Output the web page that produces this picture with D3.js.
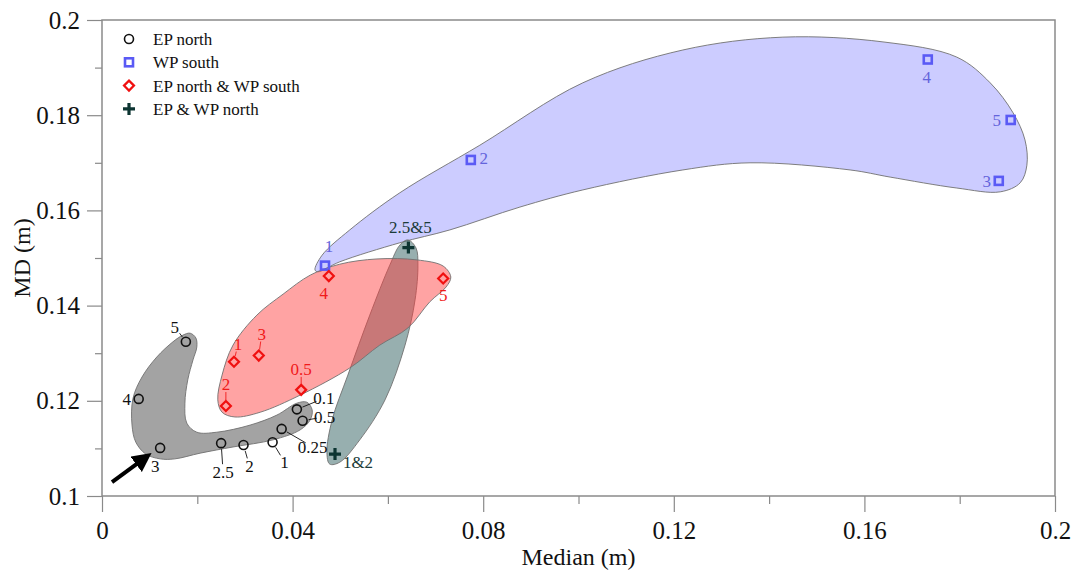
<!DOCTYPE html>
<html>
<head>
<meta charset="utf-8">
<script src="https://cdn.jsdelivr.net/npm/d3@7"></script>
<style>
  body { margin: 0; background: #fff; }
  text { font-family: "Liberation Serif", "Times New Roman", serif; }
</style>
</head>
<body>
<svg id="chart" width="1076" height="573"></svg>
<script>
// axis ticks
var xTicksMajor = [0, 0.04, 0.08, 0.12, 0.16, 0.2];
var xTicksMinor = [0.02, 0.06, 0.1, 0.14, 0.18];
var yTicksMajor = [0.1, 0.12, 0.14, 0.16, 0.18, 0.2];
var yTicksMinor = [0.11, 0.13, 0.15, 0.17, 0.19];

// series: median, MD, label
var epNorthX = [0.0176, 0.0077, 0.0122, 0.0250, 0.0297, 0.0358, 0.0377, 0.0409, 0.0421];
var epNorthY = [0.1324, 0.1204, 0.1101, 0.1111, 0.1107, 0.1113, 0.1141, 0.1182, 0.1158];
var epNorthLabels = ["5", "4", "3", "2.5", "2", "1", "0.25", "0.1", "0.5"];

var wpSouthX = [0.0468, 0.0774, 0.1733, 0.1907, 0.1882];
var wpSouthY = [0.1484, 0.1706, 0.1917, 0.1790, 0.1662];
var wpSouthLabels = ["1", "2", "4", "5", "3"];

var mixX = [0.0277, 0.0329, 0.0260, 0.0418, 0.0476, 0.0716];
var mixY = [0.1282, 0.1295, 0.1189, 0.1223, 0.1462, 0.1457];
var mixLabels = ["1", "3", "2", "0.5", "4", "5"];

var epwpX = [0.0643, 0.0489];
var epwpY = [0.1522, 0.1088];
var epwpLabels = ["2.5&5", "1&2"];

var legendNames = ["EP north", "WP south", "EP north & WP south", "EP & WP north"];

// region outlines (median, MD)
var grayRegion = [[0.0185,0.1342],[0.0197,0.1332],[0.0199,0.1313],[0.0191,0.1286],[0.0180,0.1244],[0.0174,0.1195],
  [0.0178,0.1153],[0.0199,0.1134],[0.0241,0.1134],[0.0311,0.1149],[0.0367,0.1170],[0.0409,0.1195],[0.0430,0.1197],
  [0.0441,0.1181],[0.0437,0.1160],[0.0416,0.1139],[0.0359,0.1118],[0.0275,0.1103],[0.0206,0.1090],[0.0153,0.1078],
  [0.0122,0.1078],[0.0092,0.1088],[0.0071,0.1113],[0.0063,0.1149],[0.0065,0.1205],[0.0084,0.1250],[0.0115,0.1292],
  [0.0149,0.1324],[0.0170,0.1338]];
var blueRegion = [[0.0447,0.1475],[0.0462,0.1506],[0.0520,0.1559],[0.0625,0.1637],[0.0793,0.1737],[0.1009,0.1868],
  [0.1219,0.1937],[0.1429,0.1964],[0.1639,0.1954],[0.1794,0.1922],[0.1864,0.1868],[0.1912,0.1805],[0.1937,0.1748],
  [0.1941,0.1695],[0.1927,0.1658],[0.1885,0.1639],[0.1794,0.1647],[0.1654,0.1670],[0.1570,0.1685],[0.1360,0.1700],
  [0.1219,0.1685],[0.1009,0.1643],[0.0877,0.1607],[0.0730,0.1559],[0.0625,0.1532],[0.0499,0.1492],[0.0453,0.1471]];
var redRegion = [[0.0243,0.1202],[0.0252,0.1254],[0.0275,0.1317],[0.0325,0.1380],[0.0380,0.1424],[0.0437,0.1464],
  [0.0499,0.1487],[0.0577,0.1498],[0.0661,0.1496],[0.0716,0.1483],[0.0732,0.1460],[0.0722,0.1439],[0.0688,0.1408],
  [0.0642,0.1353],[0.0583,0.1317],[0.0520,0.1269],[0.0416,0.1212],[0.0332,0.1176],[0.0279,0.1166],[0.0252,0.1176]];
var tealRegion = [[0.0642,0.1538],[0.0659,0.1521],[0.0663,0.1485],[0.0657,0.1412],[0.0636,0.1317],[0.0594,0.1202],
  [0.0541,0.1118],[0.0499,0.1071],[0.0478,0.1067],[0.0472,0.1092],[0.0483,0.1160],[0.0516,0.1254],[0.0562,0.1380],
  [0.0604,0.1485],[0.0625,0.1527]];

var arrowFrom = [0.0021, 0.1029];
var arrowTo = [0.0097, 0.1086];

// label placement (pixel offsets from the point, leader line flag)
var epNorthLabelPos = [[-11,-15,1],[-12,0,0],[-5,18,0],[2,29,1],[6,21,1],[12,20,1],[31,18,1],[27,-11,1],[22,-4,1]];
var wpSouthLabelPos = [[4,-20,0],[13,-2,0],[-1,18,0],[-14,0,0],[-12,0,0]];
var mixLabelPos = [[4,-18,1],[3,-22,1],[0,-22,1],[0,-21,1],[-5,17,0],[0,17,0]];
var epwpLabelPos = [[2,-20,0],[23,8,0]];

var svg = d3.select("#chart");
var x = d3.scaleLinear().domain([0, 0.2]).range([102, 1055]);
var y = d3.scaleLinear().domain([0.1, 0.2]).range([496, 20]);

var axisColor = "#8a8a8a";

// regions
var outline = d3.line()
    .x(function(d) { return x(d[0]); })
    .y(function(d) { return y(d[1]); })
    .curve(d3.curveCatmullRomClosed.alpha(0.5));

var regions = [
    { pts: blueRegion, fill: "#8080ff", op: 0.4 },
    { pts: tealRegion, fill: "#2f5f5f", op: 0.5 },
    { pts: redRegion, fill: "#ff3c3c", op: 0.47 },
    { pts: grayRegion, fill: "#7c7c7c", op: 0.7 }
];
svg.selectAll("path.region")
    .data(regions)
    .enter()
    .append("path")
    .attr("class", "region")
    .attr("d", function(d) { return outline(d.pts); })
    .attr("fill", function(d) { return d.fill; })
    .attr("fill-opacity", function(d) { return d.op; })
    .attr("stroke", "#707070")
    .attr("stroke-width", 0.9);

// axes
function styleAxis(g) {
    g.attr("font-family", null).attr("font-size", null);
    g.select(".domain").remove();
    g.selectAll(".tick line").attr("stroke", axisColor).attr("stroke-width", 1.2);
    g.selectAll(".tick text")
        .attr("fill", "#111")
        .style("font-size", "25px");
}

svg.append("g").attr("transform", "translate(0,496)")
    .call(d3.axisBottom(x).tickValues(xTicksMajor).tickSize(16).tickPadding(9).tickFormat(function(d) { return String(d); }))
    .call(styleAxis);
svg.append("g").attr("transform", "translate(0,496)")
    .call(d3.axisBottom(x).tickValues(xTicksMinor).tickSize(8).tickFormat(""))
    .call(styleAxis);
svg.append("g").attr("transform", "translate(102,0)")
    .call(d3.axisLeft(y).tickValues(yTicksMajor).tickSize(15).tickPadding(7).tickFormat(function(d) { return String(d); }))
    .call(styleAxis);
svg.append("g").attr("transform", "translate(102,0)")
    .call(d3.axisLeft(y).tickValues(yTicksMinor).tickSize(7).tickFormat(""))
    .call(styleAxis);

svg.append("rect")
    .attr("x", x(0)).attr("y", y(0.2))
    .attr("width", x(0.2) - x(0)).attr("height", y(0.1) - y(0.2))
    .attr("fill", "none").attr("stroke", axisColor).attr("stroke-width", 1.5);

svg.append("text")
    .attr("x", (x(0) + x(0.2)) / 2).attr("y", 565)
    .attr("text-anchor", "middle")
    .style("font-size", "24px").attr("fill", "#111")
    .text("Median (m)");
svg.append("text")
    .attr("transform", "translate(30," + ((y(0.1) + y(0.2)) / 2) + ") rotate(-90)")
    .attr("text-anchor", "middle")
    .style("font-size", "24px").attr("fill", "#111")
    .text("MD (m)");

// symbols
var symbols = {
    circle: function(g) { g.append("circle").attr("r", 4.5).attr("fill", "none").attr("stroke", "#111").attr("stroke-width", 1.6); },
    square: function(g) { g.append("rect").attr("x", -4).attr("y", -4).attr("width", 8).attr("height", 8).attr("fill", "none").attr("stroke", "#5a5af5").attr("stroke-width", 2.6); },
    diamond: function(g) { g.append("path").attr("d", "M0,-5L5,0L0,5L-5,0Z").attr("fill", "none").attr("stroke", "#f01010").attr("stroke-width", 2.2); },
    plus: function(g) { g.append("path").attr("d", "M-6,0H6M0,-6V6").attr("fill", "none").attr("stroke", "#0d3532").attr("stroke-width", 3.2); }
};

var series = [
    { xs: epNorthX, ys: epNorthY, labels: epNorthLabels, pos: epNorthLabelPos, sym: "circle", color: "#111" },
    { xs: wpSouthX, ys: wpSouthY, labels: wpSouthLabels, pos: wpSouthLabelPos, sym: "square", color: "#6464dc" },
    { xs: mixX, ys: mixY, labels: mixLabels, pos: mixLabelPos, sym: "diamond", color: "#f01a1a" },
    { xs: epwpX, ys: epwpY, labels: epwpLabels, pos: epwpLabelPos, sym: "plus", color: "#1b3b3a" }
];

series.forEach(function(s) {
    var pts = s.xs.map(function(v, i) {
        return { px: x(v), py: y(s.ys[i]), label: s.labels[i], dx: s.pos[i][0], dy: s.pos[i][1], leader: s.pos[i][2] };
    });

    // leader lines
    pts.filter(function(d) { return d.leader; }).forEach(function(d) {
        var len = Math.sqrt(d.dx * d.dx + d.dy * d.dy);
        var ux = d.dx / len, uy = d.dy / len;
        var a = 6, b = len - 8;
        if (b <= a) return;
        svg.append("line")
            .attr("x1", d.px + ux * a).attr("y1", d.py + uy * a)
            .attr("x2", d.px + ux * b).attr("y2", d.py + uy * b)
            .attr("stroke", s.color).attr("stroke-width", 0.9);
    });

    var g = svg.selectAll(null)
        .data(pts)
        .enter()
        .append("g")
        .attr("transform", function(d) { return "translate(" + d.px + "," + d.py + ")"; });
    g.each(function() { symbols[s.sym](d3.select(this)); });

    svg.selectAll(null)
        .data(pts)
        .enter()
        .append("text")
        .attr("x", function(d) { return d.px + d.dx; })
        .attr("y", function(d) { return d.py + d.dy; })
        .attr("dy", "0.35em")
        .attr("text-anchor", "middle")
        .attr("fill", s.color)
        .style("font-size", "17px")
        .text(function(d) { return d.label; });
});

// arrow
svg.append("defs").append("marker")
    .attr("id", "head")
    .attr("viewBox", "0 0 10 10")
    .attr("refX", 2).attr("refY", 5)
    .attr("markerWidth", 4.8).attr("markerHeight", 4.8)
    .attr("orient", "auto")
    .append("path").attr("d", "M0,0L10,5L0,10Z").attr("fill", "#000");
svg.append("line")
    .attr("x1", x(arrowFrom[0])).attr("y1", y(arrowFrom[1]))
    .attr("x2", x(arrowTo[0]) - 9).attr("y2", y(arrowTo[1]) + 7)
    .attr("stroke", "#000").attr("stroke-width", 4)
    .attr("marker-end", "url(#head)");

// legend
var legend = svg.append("g");
var rows = legend.selectAll("g")
    .data(legendNames)
    .enter()
    .append("g")
    .attr("transform", function(d, i) { return "translate(129," + (39 + i * 23.3) + ")"; });
rows.each(function(d, i) { symbols[series[i].sym](d3.select(this)); });
rows.append("text")
    .attr("x", 24)
    .attr("dy", "0.35em")
    .attr("fill", "#111")
    .style("font-size", "17px")
    .text(function(d) { return d; });
</script>
</body>
</html>
